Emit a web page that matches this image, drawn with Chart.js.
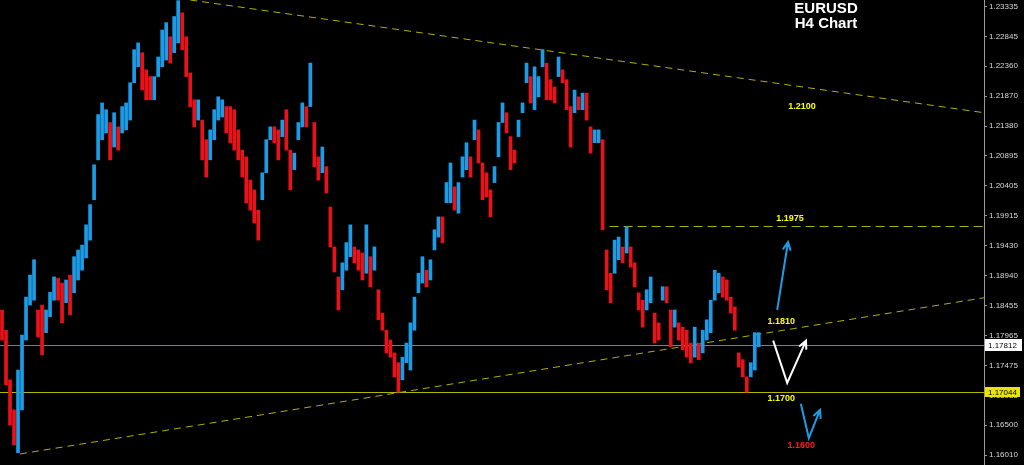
<!DOCTYPE html>
<html>
<head>
<meta charset="utf-8">
<script src="https://cdn.jsdelivr.net/npm/chart.js@4.4.0/dist/chart.umd.min.js"></script>
<style>
html, body { margin: 0; padding: 0; background: #000; }
#wrap { width: 1024px; height: 465px; }
</style>
</head>
<body>
<div id="wrap"><canvas id="graph1"></canvas></div>
<script>
// H4 candles, one slot per group of bars: high and low of each slot
var highs = [
    1.1838, 1.1805, 1.1724, 1.1675, 1.1740, 1.1797, 1.1859, 1.1895, 1.1920, 1.1838,
    1.1846, 1.1838, 1.1867, 1.1892, 1.1890, 1.1882, 1.1887, 1.1895, 1.1925, 1.1936,
    1.1944, 1.1977, 1.2010, 1.2075, 1.2157, 1.2176, 1.2165, 1.2144, 1.2160, 1.2137,
    1.2170, 1.2176, 1.2209, 1.2263, 1.2274, 1.2258, 1.2230, 1.2219, 1.2219, 1.2251,
    1.2295, 1.2307, 1.2284, 1.2317, 1.2343, 1.2323, 1.2284, 1.2225, 1.2181, 1.2181,
    1.2148, 1.2116, 1.2132, 1.2165, 1.2186, 1.2181, 1.2170, 1.2170, 1.2165, 1.2132,
    1.2099, 1.2088, 1.2050, 1.2034, 1.2001, 1.2062, 1.2116, 1.2137, 1.2137, 1.2132,
    1.2148, 1.2165, 1.2099, 1.2094, 1.2144, 1.2176, 1.2170, 1.2241, 1.2144, 1.2088,
    1.2104, 1.2072, 1.2006, 1.1941, 1.1892, 1.1915, 1.1948, 1.1977, 1.1941, 1.1936,
    1.1931, 1.1977, 1.1925, 1.1941, 1.1871, 1.1833, 1.1805, 1.1789, 1.1768, 1.1752,
    1.1761, 1.1784, 1.1817, 1.1859, 1.1898, 1.1925, 1.1903, 1.1920, 1.1969, 1.1990,
    1.1990, 1.2046, 1.2078, 1.2039, 1.2046, 1.2088, 1.2111, 1.2088, 1.2148, 1.2132,
    1.2078, 1.2062, 1.2034, 1.2072, 1.2144, 1.2176, 1.2160, 1.2121, 1.2099, 1.2148,
    1.2176, 1.2241, 1.2219, 1.2235, 1.2219, 1.2263, 1.2241, 1.2214, 1.2202, 1.2251,
    1.2230, 1.2214, 1.2170, 1.2197, 1.2186, 1.2192, 1.2192, 1.2137, 1.2132, 1.2132,
    1.2116, 1.1936, 1.1898, 1.1952, 1.1957, 1.1941, 1.1974, 1.1941, 1.1915, 1.1866,
    1.1854, 1.1871, 1.1892, 1.1833, 1.1817, 1.1876, 1.1876, 1.1838, 1.1838, 1.1817,
    1.1810, 1.1805, 1.1784, 1.1810, 1.1784, 1.1805, 1.1822, 1.1854, 1.1903, 1.1898,
    1.1892, 1.1887, 1.1859, 1.1843, 1.1768, 1.1757, 1.1729, 1.1752, 1.1801, 1.1801
];
var lows = [
    1.1789, 1.1716, 1.1650, 1.1618, 1.1605, 1.1675, 1.1789, 1.1846, 1.1854, 1.1794,
    1.1765, 1.1801, 1.1827, 1.1854, 1.1854, 1.1817, 1.1850, 1.1830, 1.1866, 1.1887,
    1.1903, 1.1923, 1.1952, 1.2018, 1.2083, 1.2116, 1.2127, 1.2083, 1.2104, 1.2099,
    1.2127, 1.2132, 1.2148, 1.2209, 1.2235, 1.2197, 1.2181, 1.2181, 1.2181, 1.2219,
    1.2235, 1.2246, 1.2241, 1.2258, 1.2274, 1.2263, 1.2219, 1.2170, 1.2137, 1.2148,
    1.2083, 1.2055, 1.2083, 1.2116, 1.2148, 1.2153, 1.2127, 1.2111, 1.2099, 1.2083,
    1.2055, 1.2013, 1.2001, 1.1980, 1.1952, 1.2018, 1.2062, 1.2116, 1.2111, 1.2083,
    1.2121, 1.2099, 1.2034, 1.2067, 1.2116, 1.2137, 1.2137, 1.2170, 1.2072, 1.2050,
    1.2062, 1.2029, 1.1941, 1.1900, 1.1838, 1.1871, 1.1903, 1.1925, 1.1915, 1.1903,
    1.1887, 1.1898, 1.1876, 1.1903, 1.1822, 1.1805, 1.1768, 1.1761, 1.1729, 1.1704,
    1.1724, 1.1752, 1.1740, 1.1805, 1.1866, 1.1882, 1.1876, 1.1887, 1.1936, 1.1957,
    1.1948, 1.2013, 1.2013, 1.2001, 1.1996, 1.2055, 1.2067, 1.2055, 1.2116, 1.2078,
    1.2018, 1.2023, 1.1990, 1.2046, 1.2088, 1.2144, 1.2127, 1.2067, 1.2078, 1.2121,
    1.2160, 1.2209, 1.2176, 1.2165, 1.2186, 1.2235, 1.2181, 1.2181, 1.2176, 1.2219,
    1.2209, 1.2165, 1.2104, 1.2160, 1.2165, 1.2165, 1.2148, 1.2094, 1.2111, 1.2111,
    1.1969, 1.1871, 1.1850, 1.1898, 1.1920, 1.1915, 1.1931, 1.1908, 1.1876, 1.1838,
    1.1810, 1.1838, 1.1850, 1.1784, 1.1789, 1.1854, 1.1850, 1.1778, 1.1810, 1.1789,
    1.1773, 1.1761, 1.1752, 1.1761, 1.1757, 1.1768, 1.1789, 1.1801, 1.1854, 1.1866,
    1.1859, 1.1854, 1.1833, 1.1805, 1.1745, 1.1729, 1.1704, 1.1729, 1.1740, 1.1778
];

var tickValues = [1.23335, 1.22845, 1.22360, 1.21870, 1.21380, 1.20895, 1.20405, 1.19915,
    1.19430, 1.18940, 1.18455, 1.17965, 1.17475, 1.16985, 1.16500, 1.16010];

var lastPrice = 1.17812;
var supportPrice = 1.17044;
var resistancePrice = 1.1975;

// trendlines, [slot, price] pairs
var upperTrend = [[47, 1.2344], [245.25, 1.2160]];
var lowerTrend = [[4.5, 1.1603], [245.25, 1.1858]];
var resistanceStart = 151.75;

// level notes: text, slot, price
var levelNotes = [
    ['1.2100', 199.8, 1.2170, '#ffff00'],
    ['1.1975', 196.8, 1.1987, '#ffff00'],
    ['1.1810', 194.6, 1.1820, '#ffff00'],
    ['1.1700', 194.6, 1.1693, '#ffff00'],
    ['1.1600', 199.6, 1.1616, '#ff1a1a']
];

// scenario arrows, list of [slot, price] points
var arrowUp = [[193.6, 1.1838], [196.3, 1.1949]];
var arrowBounce = [[192.6, 1.1788], [196.1, 1.1719], [200.8, 1.1788]];
var arrowDip = [[199.5, 1.1685], [201.5, 1.1629], [204.3, 1.1675]];

var upColor = '#1c9ce6';
var downColor = '#e8121a';

var candleData = highs.map(function (h, i) {
    return { x: i, y: [lows[i], h] };
});
var candleColors = highs.map(function (h, i) {
    if (i === 0) return downColor;
    var mid = (h + lows[i]) / 2;
    var prev = (highs[i - 1] + lows[i - 1]) / 2;
    return mid >= prev ? upColor : downColor;
});

function px(chart, p) {
    return [chart.scales.x.getPixelForValue(p[0]), chart.scales.y.getPixelForValue(p[1])];
}

function drawPath(ctx, pts, color) {
    ctx.strokeStyle = color;
    ctx.lineWidth = 2;
    ctx.beginPath();
    ctx.moveTo(pts[0][0], pts[0][1]);
    for (var i = 1; i < pts.length; i++) ctx.lineTo(pts[i][0], pts[i][1]);
    var a = pts[pts.length - 1], b = pts[pts.length - 2];
    var ang = Math.atan2(a[1] - b[1], a[0] - b[0]);
    ctx.moveTo(a[0] - 9 * Math.cos(ang - 0.45), a[1] - 9 * Math.sin(ang - 0.45));
    ctx.lineTo(a[0], a[1]);
    ctx.lineTo(a[0] - 9 * Math.cos(ang + 0.45), a[1] - 9 * Math.sin(ang + 0.45));
    ctx.stroke();
}

var overlay = {
    id: 'overlay',
    beforeDraw: function (chart) {
        var ctx = chart.ctx;
        ctx.save();
        ctx.fillStyle = '#000';
        ctx.fillRect(0, 0, chart.width, chart.height);
        ctx.restore();
    },
    beforeDatasetsDraw: function (chart) {
        var ctx = chart.ctx, area = chart.chartArea, y = chart.scales.y;
        ctx.save();
        ctx.beginPath();
        ctx.rect(area.left, area.top, area.right - area.left, area.bottom - area.top);
        ctx.clip();
        ctx.lineWidth = 1;

        var gy = Math.round(y.getPixelForValue(lastPrice)) + 0.5;
        ctx.strokeStyle = '#7c7c88';
        ctx.beginPath(); ctx.moveTo(area.left, gy); ctx.lineTo(area.right, gy); ctx.stroke();

        var sy = Math.round(y.getPixelForValue(supportPrice)) + 0.5;
        ctx.strokeStyle = '#b4b400';
        ctx.beginPath(); ctx.moveTo(area.left, sy); ctx.lineTo(area.right, sy); ctx.stroke();

        ctx.strokeStyle = '#b0b000';
        ctx.setLineDash([7, 5]);
        [upperTrend, lowerTrend].forEach(function (t) {
            var a = px(chart, t[0]), b = px(chart, t[1]);
            ctx.beginPath(); ctx.moveTo(a[0], a[1]); ctx.lineTo(b[0], b[1]); ctx.stroke();
        });
        ctx.setLineDash([9, 5]);
        var r = px(chart, [resistanceStart, resistancePrice]);
        var ry = Math.round(r[1]) + 0.5;
        ctx.beginPath(); ctx.moveTo(r[0], ry); ctx.lineTo(area.right, ry); ctx.stroke();
        ctx.restore();
    },
    afterDraw: function (chart) {
        var ctx = chart.ctx, area = chart.chartArea, y = chart.scales.y;
        ctx.save();
        ctx.textAlign = 'center';
        ctx.textBaseline = 'middle';

        ctx.fillStyle = '#ffffff';
        ctx.font = 'bold 15px "Liberation Sans", Arial, sans-serif';
        var t1 = px(chart, [205.8, 1.2330]);
        ctx.fillText('EURUSD', t1[0], t1[1]);
        var t2 = px(chart, [205.8, 1.2305]);
        ctx.fillText('H4 Chart', t2[0], t2[1]);

        ctx.font = 'bold 9px "Liberation Sans", Arial, sans-serif';
        levelNotes.forEach(function (n) {
            var p = px(chart, [n[1], n[2]]);
            ctx.fillStyle = n[3];
            ctx.fillText(n[0], p[0], p[1]);
        });

        drawPath(ctx, arrowUp.map(function (p) { return px(chart, p); }), upColor);
        drawPath(ctx, arrowBounce.map(function (p) { return px(chart, p); }), '#ffffff');
        drawPath(ctx, arrowDip.map(function (p) { return px(chart, p); }), upColor);

        // price boxes on the axis
        ctx.textAlign = 'left';
        ctx.font = '8px "Liberation Sans", Arial, sans-serif';
        var ly = Math.round(y.getPixelForValue(lastPrice));
        ctx.fillStyle = '#ffffff';
        ctx.fillRect(area.right + 1, ly - 6, 37, 12);
        ctx.fillStyle = '#000';
        ctx.fillText(lastPrice.toFixed(5), area.right + 4, ly + 0.5);
        var sy = Math.round(y.getPixelForValue(supportPrice));
        ctx.fillStyle = '#e6e600';
        ctx.fillRect(area.right + 1, sy - 5, 35, 10);
        ctx.fillStyle = '#000';
        ctx.fillText(supportPrice.toFixed(5), area.right + 4, sy + 0.5);
        ctx.restore();
    }
};

window.onload = function () {
    var ctx = document.getElementById('graph1').getContext('2d');
    window.eurusdChart = new Chart(ctx, {
        type: 'bar',
        data: {
            datasets: [{
                data: candleData,
                backgroundColor: candleColors,
                borderWidth: 0,
                borderSkipped: false,
                barThickness: 3
            }]
        },
        options: {
            responsive: true,
            maintainAspectRatio: false,
            animation: false,
            layout: { padding: 0 },
            plugins: {
                legend: { display: false },
                tooltip: { enabled: false }
            },
            scales: {
                x: {
                    type: 'linear',
                    display: false,
                    offset: false,
                    min: -0.5,
                    max: 245.25
                },
                y: {
                    position: 'right',
                    min: 1.1585,
                    max: 1.2344,
                    afterBuildTicks: function (s) {
                        s.ticks = tickValues.map(function (v) { return { value: v }; });
                    },
                    afterFit: function (s) {
                        s.width = 40;
                        s.paddingTop = 0;
                        s.paddingBottom = 0;
                    },
                    ticks: {
                        color: '#d8d8d8',
                        font: { family: 'Liberation Sans', size: 8 },
                        padding: 2,
                        autoSkip: false,
                        callback: function (v) { return Number(v).toFixed(5); }
                    },
                    grid: { drawOnChartArea: false, drawTicks: true, tickLength: 3, color: '#9a9a9a' },
                    border: { display: true, color: '#9a9a9a' }
                }
            }
        },
        plugins: [overlay]
    });
};
</script>
</body>
</html>
